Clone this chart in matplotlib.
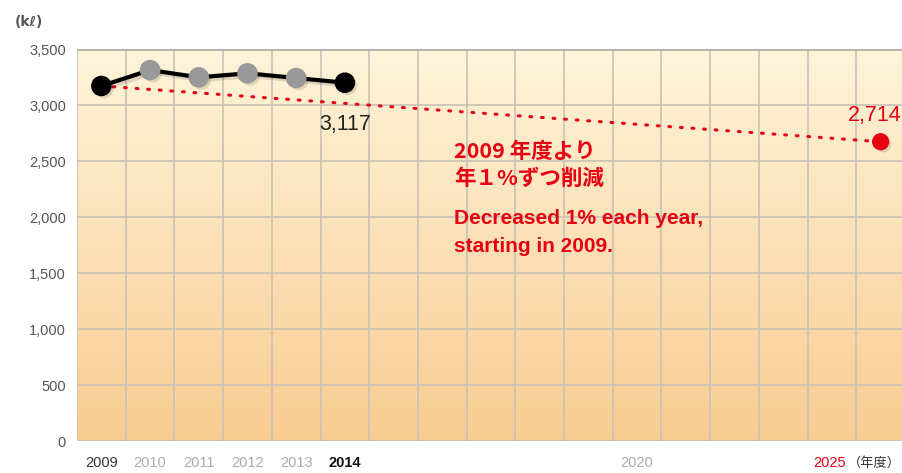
import numpy as np
import matplotlib
matplotlib.use('Agg')
import matplotlib.pyplot as plt
import matplotlib.patheffects as pe
from matplotlib.colors import LinearSegmentedColormap

plt.rcParams['font.family'] = ['Liberation Sans', 'Noto Sans CJK JP', 'DejaVu Sans']

# data
years = [2009, 2010, 2011, 2012, 2013, 2014]
usage = [3170, 3312, 3247, 3283, 3241, 3199]
marker_colors = ['black', '#999999', '#999999', '#999999', '#999999', 'black']
target_years = [2009, 2025]
target_values = [3170, 2672]
label_2014 = '3,117'
label_2025 = '2,714'
tick_years = [2009, 2010, 2011, 2012, 2013, 2014, 2020]
tick_colors = ['#333333', '#aaaaaa', '#aaaaaa', '#aaaaaa', '#aaaaaa', '#111111', '#aaaaaa']
tick_weights = ['normal', 'normal', 'normal', 'normal', 'normal', 'bold', 'normal']
red = '#e50012'

fig = plt.figure(figsize=(9.02, 4.73), dpi=100)
ax = fig.add_axes([77 / 902, 32 / 473, 828 / 902, 392 / 473])

# background gradient
cmap = LinearSegmentedColormap.from_list('bg', ['#f9cc92', '#fef4da'])
grad = np.linspace(0, 1, 256).reshape(-1, 1)
ax.imshow(grad, cmap=cmap, aspect='auto', origin='lower',
          extent=[2008.5, 2025.5, 0, 3500], zorder=0)

ax.set_xlim(2008.5, 2025.5)
ax.set_ylim(0, 3500)

# grid
for x in np.arange(2008.5, 2026, 1):
    ax.axvline(x, color='#c9c1b4', lw=1.2, zorder=1)
for y in range(0, 3501, 500):
    ax.axhline(y, color='#c9c1b4', lw=1.2, zorder=1)
ax.axhline(3500, color='#b8b0a4', lw=2, zorder=1)

for s in ax.spines.values():
    s.set_visible(False)

shadow = [pe.SimplePatchShadow(offset=(2, -2), shadow_rgbFace='#5a4a30', alpha=0.18), pe.Normal()]

# target line
ax.plot(target_years, target_values, color=red, lw=2.2, ls=(0, (0.6, 3.2)),
        dash_capstyle='round', zorder=2)
ax.scatter([target_years[-1]], [target_values[-1]], s=130, color=red, zorder=4,
           path_effects=shadow)

# actual values
ax.plot(years, usage, color='black', lw=3, zorder=3,
        path_effects=[pe.SimpleLineShadow(offset=(2, -2), alpha=0.12), pe.Normal()])
ax.scatter(years, usage, s=190, c=marker_colors, zorder=4, path_effects=shadow)

ax.text(2014, 2830, label_2014, ha='center', va='center', fontsize=15.5, color='#222222')
fig.text(902 / 902, 1 - 116 / 473, label_2025, ha='right', va='center', fontsize=15.5, color=red)

ax.text(2016.25, 2465, '2009 年度より\n年１%ずつ削減', ha='left', va='center',
        fontsize=15.5, fontweight='bold', color=red, linespacing=1.3,
        family=['Noto Sans CJK JP', 'DejaVu Sans'])
ax.text(2016.25, 1860, 'Decreased 1% each year,\nstarting in 2009.', ha='left', va='center',
        fontsize=15, fontweight='bold', color=red, linespacing=1.6)

# axes ticks
ax.set_yticks(range(0, 3501, 500))
ax.set_yticklabels([f'{v:,}' for v in range(0, 3501, 500)], fontsize=10.5, color='#555555')
ax.set_xticks(tick_years)
ax.set_xticklabels([str(y) for y in tick_years], fontsize=10.5)
for lbl, c, w in zip(ax.get_xticklabels(), tick_colors, tick_weights):
    lbl.set_color(c)
    lbl.set_fontweight(w)
ax.tick_params(length=0, pad=8)
ax.tick_params(axis='x', pad=11)

fig.text(846 / 902, 1 - 463 / 473, '2025', ha='right', va='center', fontsize=10.5, color=red)
fig.text(901 / 902, 1 - 463 / 473, '（年度）', ha='right', va='center', fontsize=9.5,
         color='#333333', family=['Noto Sans CJK JP', 'DejaVu Sans'])
fig.text(15 / 902, 1 - 22 / 473, '(kℓ)', ha='left', va='center', fontsize=10,
         color='#555555', fontweight='bold', family=['DejaVu Sans'])

fig.savefig('out.png', dpi=100)
